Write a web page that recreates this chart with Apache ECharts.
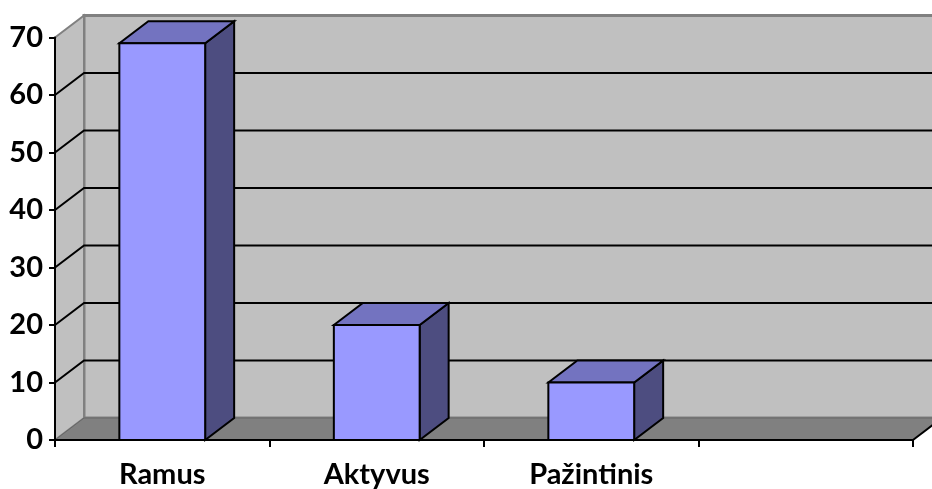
<!DOCTYPE html>
<html>
<head>
<meta charset="utf-8">
<script src="https://cdn.jsdelivr.net/npm/echarts@6/dist/echarts.min.js"></script>
<style>
  html, body { margin: 0; padding: 0; background: #fff; }
  #chart { width: 932px; height: 489px; }
</style>
</head>
<body>
<div id="chart"></div>
<script>
  // kategorijos ir reikšmės
  var categories = ['Ramus', 'Aktyvus', 'Pažintinis', '']
  var values = [69, 20, 10]
  var yTicks = [0, 10, 20, 30, 40, 50, 60, 70]

  // 3D gylis pikseliais
  var DX = 29
  var DY = -22

  var chart = echarts.init(document.getElementById('chart'))

  function renderWalls(params, api) {
    var bw = api.size([1, 0])[0]
    var L = api.coord([0, 0])[0] - bw / 2
    var R = L + bw * categories.length
    var y0 = api.coord([0, yTicks[0]])[1]
    var yT = api.coord([0, yTicks[yTicks.length - 1]])[1]
    var kids = []
    // galinė siena
    kids.push({
      type: 'polygon',
      shape: { points: [[L + DX, yT + DY], [R + DX + 40, yT + DY], [R + DX + 40, y0 + DY], [L + DX, y0 + DY]] },
      style: { fill: '#C0C0C0', stroke: '#808080', lineWidth: 3 }
    })
    // kairė siena
    kids.push({
      type: 'polygon',
      shape: { points: [[L, yT], [L + DX, yT + DY], [L + DX, y0 + DY], [L, y0]] },
      style: { fill: '#C0C0C0', stroke: '#808080', lineWidth: 2 }
    })
    // grindys
    kids.push({
      type: 'polygon',
      shape: { points: [[L, y0], [R, y0], [R + DX, y0 + DY], [L + DX, y0 + DY]] },
      style: { fill: '#808080', stroke: '#666', lineWidth: 1 }
    })
    kids.push({
      type: 'line',
      shape: { x1: R, y1: y0, x2: R + DX, y2: y0 + DY },
      style: { stroke: '#000', lineWidth: 2 }
    })
    // tinklelio linijos
    for (var i = 1; i < yTicks.length - 1; i++) {
      var y = api.coord([0, yTicks[i]])[1]
      kids.push({
        type: 'polyline',
        shape: { points: [[L, y], [L + DX, y + DY], [R + DX + 40, y + DY]] },
        style: { stroke: '#000', lineWidth: 2, fill: null }
      })
    }
    return { type: 'group', children: kids }
  }

  function renderBar(params, api) {
    var idx = api.value(0)
    var val = api.value(1)
    var bw = api.size([1, 0])[0]
    var c = api.coord([idx, val])
    var b = api.coord([idx, 0])
    var x1 = c[0] - bw * 0.2
    var x2 = c[0] + bw * 0.2
    var yv = c[1]
    var y0 = b[1]
    var edge = { stroke: '#000', lineWidth: 2, lineJoin: 'miter' }
    return {
      type: 'group',
      children: [
        {
          type: 'polygon',
          shape: { points: [[x2, yv], [x2 + DX, yv + DY], [x2 + DX, y0 + DY], [x2, y0]] },
          style: Object.assign({ fill: '#4D4D80' }, edge)
        },
        {
          type: 'polygon',
          shape: { points: [[x1, yv], [x1 + DX, yv + DY], [x2 + DX, yv + DY], [x2, yv]] },
          style: Object.assign({ fill: '#7373C0' }, edge)
        },
        {
          type: 'rect',
          shape: { x: x1, y: yv, width: x2 - x1, height: y0 - yv },
          style: Object.assign({ fill: '#9999FF' }, edge)
        }
      ]
    }
  }

  var option = {
    animation: false,
    textStyle: { fontFamily: 'Lato' },
    grid: { left: 55, right: 19, top: 37.5, bottom: 49 },
    xAxis: {
      type: 'category',
      data: categories,
      z: 10,
      axisLine: { lineStyle: { color: '#000', width: 2 } },
      axisTick: { show: true, length: 7, lineStyle: { color: '#000', width: 2 } },
      axisLabel: {
        margin: 20,
        color: '#000',
        fontSize: 29,
        fontWeight: 'bold',
        fontFamily: 'Lato'
      }
    },
    yAxis: {
      type: 'value',
      min: 0,
      max: 70,
      interval: 10,
      z: 10,
      axisLine: { show: true, lineStyle: { color: '#000', width: 2 } },
      axisTick: { show: true, length: 6, lineStyle: { color: '#000', width: 2 } },
      splitLine: { show: false },
      axisLabel: {
        margin: 12,
        color: '#000',
        fontSize: 29,
        fontWeight: 'bold',
        fontFamily: 'Lato'
      }
    },
    series: [
      {
        type: 'custom',
        z: 1,
        silent: true,
        renderItem: renderWalls,
        data: [[0, 0]]
      },
      {
        type: 'custom',
        z: 3,
        silent: true,
        renderItem: renderBar,
        data: values.map(function (v, i) { return [i, v] })
      }
    ]
  }

  chart.setOption(option)
</script>
</body>
</html>
